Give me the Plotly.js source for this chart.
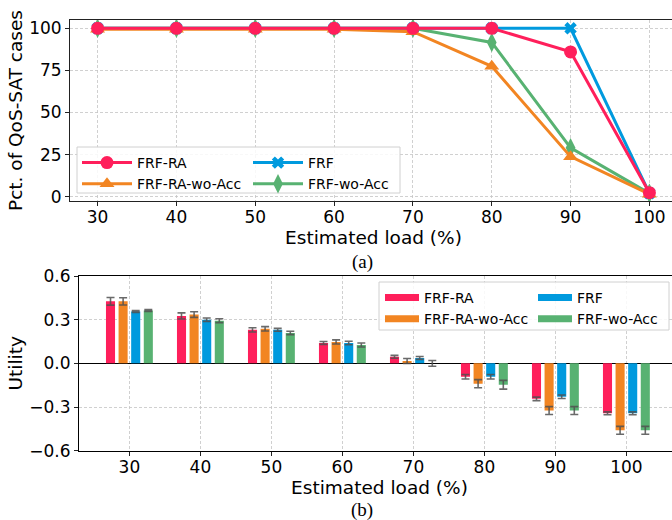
<!DOCTYPE html>
<html><head><meta charset="utf-8">
<script src="https://cdn.plot.ly/plotly-3.0.1.min.js"></script>
<style>html,body{margin:0;padding:0;overflow:hidden;background:#fff;} #chart{width:680px;height:520px;}</style>
</head><body><div id="chart"></div>
<script>
// ---- data ----
const loads = [30, 40, 50, 60, 70, 80, 90, 100];
const loadLabels = ['30', '40', '50', '60', '70', '80', '90', '100'];
const seriesNames = ['FRF-RA', 'FRF-RA-wo-Acc', 'FRF', 'FRF-wo-Acc'];

// (a) percentage of QoS-satisfied cases
const qosFRFRA      = [100, 100, 100, 100, 100, 100, 86, 2.4];
const qosFRFRAwoAcc = [99.5, 99.5, 99.5, 99.5, 98, 77.4, 23.8, 1.5];
const qosFRF        = [100, 100, 100, 100, 100, 100, 100, 2];
const qosFRFwoAcc   = [100, 100, 100, 100, 100, 91.6, 29, 2];

// (b) utility (mean) and error
const utilFRFRA      = [0.426, 0.326, 0.230, 0.140, 0.045, -0.092, -0.244, -0.343];
const errFRFRA       = [0.026, 0.021, 0.015, 0.010, 0.010, 0.015, 0.012, 0.010];
const utilFRFRAwoAcc = [0.426, 0.335, 0.237, 0.147, 0.016, -0.140, -0.324, -0.460];
const errFRFRAwoAcc  = [0.025, 0.019, 0.015, 0.014, 0.017, 0.028, 0.027, 0.027];
const utilFRF        = [0.356, 0.300, 0.230, 0.140, 0.037, -0.092, -0.229, -0.343];
const errFRF         = [0.006, 0.012, 0.010, 0.012, 0.010, 0.015, 0.012, 0.010];
const utilFRFwoAcc   = [0.363, 0.293, 0.209, 0.126, 0.000, -0.147, -0.324, -0.460];
const errFRFwoAcc    = [0.006, 0.013, 0.012, 0.014, 0.020, 0.030, 0.027, 0.027];

const utilTicks = [-0.6, -0.3, 0, 0.3, 0.6];
const utilTickText = ['\u22120.6', '\u22120.3', '0.0', '0.3', '0.6'];
const qosTicks = [0, 25, 50, 75, 100];

// ---- styles ----
const colors = {'FRF-RA': '#FF1F5B', 'FRF-RA-wo-Acc': '#F28522', 'FRF': '#009ADE', 'FRF-wo-Acc': '#58B272'};
const symbols = {'FRF-RA': 'circle', 'FRF-RA-wo-Acc': 'triangle-up', 'FRF': 'x', 'FRF-wo-Acc': 'diamond-tall'};
const msize = {'FRF-RA': 13, 'FRF-RA-wo-Acc': 13, 'FRF': 11, 'FRF-wo-Acc': 14};
const legendOf = {'FRF-RA': 'legend', 'FRF-RA-wo-Acc': 'legend', 'FRF': 'legend2', 'FRF-wo-Acc': 'legend2'};
const legendOfB = {'FRF-RA': 'legend3', 'FRF-RA-wo-Acc': 'legend3', 'FRF': 'legend4', 'FRF-wo-Acc': 'legend4'};
const rank = {'FRF-RA': 1, 'FRF-RA-wo-Acc': 2, 'FRF': 1, 'FRF-wo-Acc': 2};

const qosData = {'FRF-RA': qosFRFRA, 'FRF-RA-wo-Acc': qosFRFRAwoAcc, 'FRF': qosFRF, 'FRF-wo-Acc': qosFRFwoAcc};
const utilData = {'FRF-RA': utilFRFRA, 'FRF-RA-wo-Acc': utilFRFRAwoAcc, 'FRF': utilFRF, 'FRF-wo-Acc': utilFRFwoAcc};
const errData = {'FRF-RA': errFRFRA, 'FRF-RA-wo-Acc': errFRFRAwoAcc, 'FRF': errFRF, 'FRF-wo-Acc': errFRFwoAcc};

const traces = [];
// top: line charts (draw order so FRF-RA ends on top)
['FRF', 'FRF-wo-Acc', 'FRF-RA-wo-Acc', 'FRF-RA'].forEach(n => {
  traces.push({
    type: 'scatter', mode: 'lines+markers', name: n, x: loads, y: qosData[n],
    xaxis: 'x', yaxis: 'y', legend: legendOf[n], legendrank: rank[n],
    line: {color: colors[n], width: 3},
    marker: {color: colors[n], symbol: symbols[n], size: msize[n], line: {width: 0}},
    hoverinfo: 'x+y+name'
  });
});
// bottom: grouped bars
seriesNames.forEach(n => {
  traces.push({
    type: 'bar', name: n, x: loads, y: utilData[n], xaxis: 'x2', yaxis: 'y2',
    marker: {color: colors[n], line: {width: 0}}, showlegend: false,
    error_y: {type: 'data', array: errData[n], visible: true, color: 'rgba(80,80,80,0.85)', thickness: 1.6, width: 4}
  });
});
// legend-only entries for the bar chart (patch-like handles)
seriesNames.forEach(n => {
  traces.push({
    type: 'scatter', mode: 'lines', name: n, x: [null], y: [null], xaxis: 'x2', yaxis: 'y2',
    legend: legendOfB[n], legendrank: rank[n], line: {color: colors[n], width: 7}, hoverinfo: 'skip'
  });
});

const W = 680, H = 520;
const px = v => v / W, py = v => 1 - v / H;
const tickFont = {family: 'DejaVu Sans', size: 17, color: '#000'};
const titleFont = {family: 'DejaVu Sans', size: 18.5, color: '#000'};
const legFont = {family: 'DejaVu Sans', size: 14, color: '#000'};
const gridCommon = {showgrid: true, gridcolor: '#c4c4c4', griddash: '3px,2px', gridwidth: 0.8,
  showline: true, mirror: true, linecolor: '#222', linewidth: 1, ticks: 'outside', ticklen: 4, tickcolor: '#222', tickwidth: 1,
  tickfont: tickFont, zeroline: false};

function leg(x, y, iw) {
  return {x: px(x), y: py(y), xanchor: 'left', yanchor: 'top', bgcolor: 'rgba(0,0,0,0)', borderwidth: 0,
          font: legFont, itemwidth: iw, tracegroupgap: 0, orientation: 'v', itemclick: false};
}

const layout = {
  width: W, height: H, margin: {l: 0, r: 0, t: 0, b: 0}, paper_bgcolor: '#fff', plot_bgcolor: '#fff',
  showlegend: true, barmode: 'group', bargap: 0.29, bargroupgap: 0.28,
  xaxis: Object.assign({}, gridCommon, {domain: [px(70), px(677)], range: [26.5, 103.5], anchor: 'y',
    tickvals: loads, ticktext: loadLabels, ticklabelstandoff: -3,
    title: {text: 'Estimated load (%)', font: titleFont, standoff: 0}}),
  yaxis: Object.assign({}, gridCommon, {domain: [py(201), py(20)], range: [-2.55, 104.93], anchor: 'x',
    tickvals: qosTicks, ticktext: qosTicks.map(String),
    title: {text: 'Pct. of QoS-SAT cases', font: titleFont, standoff: 1}}),
  xaxis2: Object.assign({}, gridCommon, {domain: [px(79), 1], range: [22.9, 107.55], anchor: 'y2',
    tickvals: loads, ticktext: loadLabels, linecolor: '#000', ticklabelstandoff: -3,
    title: {text: 'Estimated load (%)', font: titleFont, standoff: 0}}),
  yaxis2: Object.assign({}, gridCommon, {domain: [py(450.7), py(276)], range: [-0.6, 0.6], anchor: 'x2',
    tickvals: utilTicks, ticktext: utilTickText, linecolor: '#000',
    zeroline: true, zerolinecolor: '#000', zerolinewidth: 1.5,
    title: {text: 'Utility', font: titleFont, standoff: 1}}),
  legend: leg(77, 147, 50),
  legend2: leg(248, 147, 50),
  legend3: leg(380, 282, 34),
  legend4: leg(533, 282, 34),
  shapes: [
    {type: 'rect', xref: 'paper', yref: 'paper', x0: px(77), x1: px(400), y0: py(193), y1: py(147),
     fillcolor: 'rgba(255,255,255,0.85)', line: {color: '#d0d0d0', width: 1}, layer: 'above'},
    {type: 'rect', xref: 'paper', yref: 'paper', x0: px(379), x1: px(669), y0: py(330), y1: py(282),
     fillcolor: 'rgba(255,255,255,0.85)', line: {color: '#d0d0d0', width: 1}, layer: 'above'}
  ],
  annotations: [
    {text: '(a)', xref: 'paper', yref: 'paper', x: px(362), y: py(262), xanchor: 'center', yanchor: 'middle',
     showarrow: false, font: {family: 'Liberation Serif', size: 19, color: '#000'}},
    {text: '(b)', xref: 'paper', yref: 'paper', x: px(362), y: py(510), xanchor: 'center', yanchor: 'middle',
     showarrow: false, font: {family: 'Liberation Serif', size: 19, color: '#000'}}
  ]
};

Plotly.newPlot('chart', traces, layout, {displayModeBar: false, staticPlot: true});
</script>
</body></html>
